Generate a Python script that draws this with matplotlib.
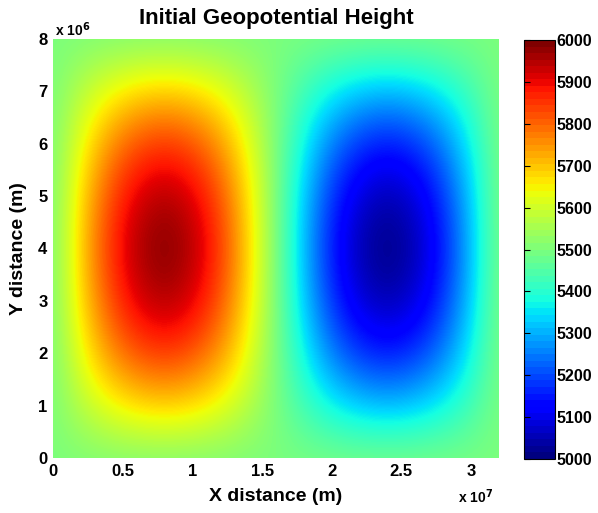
import numpy as np
import matplotlib
matplotlib.use("Agg")
import matplotlib.pyplot as plt
from matplotlib.cm import ScalarMappable
from matplotlib.colors import Normalize

plt.rcParams["font.family"] = ["Liberation Sans", "DejaVu Sans"]
plt.rcParams["font.weight"] = "bold"

# grid: x in 1e7 m, y in 1e6 m, height in m
x_km = [0.0, 0.2, 0.4, 0.6, 0.8, 1.0, 1.2, 1.4, 1.6, 1.8, 2.0, 2.2, 2.4, 2.6, 2.8, 3.0, 3.2]
y_km = [0, 1, 2, 3, 4, 5, 6, 7, 8]
heights = [
    [5500, 5500, 5500, 5500, 5500, 5500, 5500, 5500, 5500, 5500, 5500, 5500, 5500, 5500, 5500, 5500, 5500],
    [5500, 5572, 5635, 5675, 5690, 5675, 5635, 5572, 5500, 5428, 5365, 5325, 5310, 5325, 5365, 5428, 5500],
    [5500, 5635, 5752, 5827, 5855, 5827, 5752, 5635, 5500, 5365, 5248, 5173, 5145, 5173, 5248, 5365, 5500],
    [5500, 5675, 5827, 5923, 5960, 5923, 5827, 5675, 5500, 5325, 5173, 5077, 5040, 5077, 5173, 5325, 5500],
    [5500, 5690, 5855, 5960, 6000, 5960, 5855, 5690, 5500, 5310, 5145, 5040, 5000, 5040, 5145, 5310, 5500],
    [5500, 5675, 5827, 5923, 5960, 5923, 5827, 5675, 5500, 5325, 5173, 5077, 5040, 5077, 5173, 5325, 5500],
    [5500, 5635, 5752, 5827, 5855, 5827, 5752, 5635, 5500, 5365, 5248, 5173, 5145, 5173, 5248, 5365, 5500],
    [5500, 5572, 5635, 5675, 5690, 5675, 5635, 5572, 5500, 5428, 5365, 5325, 5310, 5325, 5365, 5428, 5500],
    [5500, 5500, 5500, 5500, 5500, 5500, 5500, 5500, 5500, 5500, 5500, 5500, 5500, 5500, 5500, 5500, 5500],
]
x_ticks = [0, 0.5, 1, 1.5, 2, 2.5, 3]
y_ticks = [0, 1, 2, 3, 4, 5, 6, 7, 8]
cbar_ticks = [5000, 5100, 5200, 5300, 5400, 5500, 5600, 5700, 5800, 5900, 6000]

fig = plt.figure(figsize=(5.98, 5.13), dpi=100)
ax = fig.add_axes([53 / 598, 55 / 513, 446 / 598, 419 / 513])
cax = fig.add_axes([524 / 598, 54 / 513, 31 / 598, 419 / 513])

# half-cell padding so pixel centres sit on the grid points
dx = (x_km[1] - x_km[0]) / 2
dy = (y_km[1] - y_km[0]) / 2
ax.imshow(np.array(heights), origin="lower", aspect="auto",
          extent=[x_km[0] - dx, x_km[-1] + dx, y_km[0] - dy, y_km[-1] + dy],
          cmap="jet", vmin=5000, vmax=6000, interpolation="bicubic")

ax.set_xlim(0, 3.2)
ax.set_ylim(0, 8)
ax.set_xticks(x_ticks)
ax.set_xticklabels(["0", "0.5", "1", "1.5", "2", "2.5", "3"])
ax.set_yticks(y_ticks)
for s in ax.spines.values():
    s.set_visible(False)
ax.tick_params(length=0, labelsize=12, pad=4)
for lbl in ax.get_xticklabels() + ax.get_yticklabels():
    lbl.set_fontweight("bold")

ax.set_title("Initial Geopotential Height", fontsize=16, fontweight="bold", pad=11)
ax.set_xlabel("X distance (m)", fontsize=14, fontweight="bold", labelpad=7)
ax.set_ylabel("Y distance (m)", fontsize=14, fontweight="bold", labelpad=8)

fig.text(55 / 598, 1 - 30 / 513, r"x 10$^{6}$", fontsize=10, fontweight="bold", va="center")
fig.text(458 / 598, 1 - 497 / 513, r"x 10$^{7}$", fontsize=10, fontweight="bold", va="center")

sm = ScalarMappable(norm=Normalize(5000, 6000), cmap=plt.get_cmap("jet", 64))
cb = fig.colorbar(sm, cax=cax, ticks=cbar_ticks)
cb.outline.set_linewidth(0.8)
cax.tick_params(direction="in", length=4, labelsize=11.5, pad=1, left=True, right=False)
for lbl in cax.get_yticklabels():
    lbl.set_fontweight("bold")

fig.savefig("out.png", dpi=100)
